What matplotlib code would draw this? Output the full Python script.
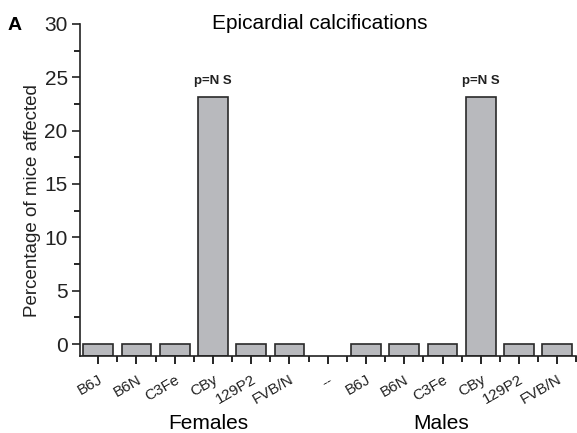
import numpy as np
import matplotlib.pyplot as plt
from matplotlib.ticker import MultipleLocator

plt.rcParams['font.family'] = ['Liberation Sans', 'DejaVu Sans']

# donnees
strains = ['B6J', 'B6N', 'C3Fe', 'CBy', '129P2', 'FVB/N',
           '--',
           'B6J', 'B6N', 'C3Fe', 'CBy', '129P2', 'FVB/N']
pct = [0, 0, 0, 23.1, 0, 0,
       np.nan,
       0, 0, 0, 23.1, 0, 0]
ymin = -1.1

x = np.arange(len(strains))
vals = np.array(pct, dtype=float)

fig = plt.figure(figsize=(5.77, 4.33), dpi=100)
ax = fig.add_axes([0.139, 0.178, 0.86, 0.767])

mask = ~np.isnan(vals)
ax.bar(x[mask], vals[mask] - ymin, bottom=ymin, width=0.78,
       color='#b8b9bd', edgecolor='#2a2a2a', linewidth=1.2)

for xi, v in zip(x, vals):
    if v > 0:
        ax.text(xi, v + 1.0, 'p=N S', ha='center', va='bottom', fontsize=9.5,
                fontweight='bold', color='#222222')

ax.set_xlim(-0.47, 12.5)
ax.set_ylim(ymin, 30)
ax.set_xticks(x)
ax.set_xticklabels(strains, rotation=30, ha='right', rotation_mode='anchor',
                   fontsize=11, color='#222222')
ax.xaxis.set_minor_locator(MultipleLocator(1, offset=0.5))
ax.yaxis.set_major_locator(MultipleLocator(5))
ax.yaxis.set_minor_locator(MultipleLocator(2.5))
ax.tick_params(axis='y', labelsize=15, length=6, width=1.2, colors='#222222', pad=3)
ax.tick_params(axis='y', which='minor', length=4, width=1.2)
ax.tick_params(axis='x', length=6, width=1.2, pad=6)
ax.tick_params(axis='x', which='minor', length=4, width=1.2)

for s in ['top', 'right']:
    ax.spines[s].set_visible(False)
for s in ['left', 'bottom']:
    ax.spines[s].set_linewidth(1.2)
    ax.spines[s].set_color('#222222')

ax.set_ylabel('Percentage of mice affected', fontsize=13.5, color='#222222')
ax.yaxis.set_label_coords(-0.078, 0.467)

fig.text(0.555, 0.945, 'Epicardial calcifications', ha='center', va='center', fontsize=15)
fig.text(0.026, 0.942, 'A', ha='center', va='center', fontsize=14, fontweight='bold')
fig.text(0.361, 0.022, 'Females', ha='center', va='center', fontsize=15)
fig.text(0.764, 0.022, 'Males', ha='center', va='center', fontsize=15)

fig.savefig('out.png', dpi=100)
